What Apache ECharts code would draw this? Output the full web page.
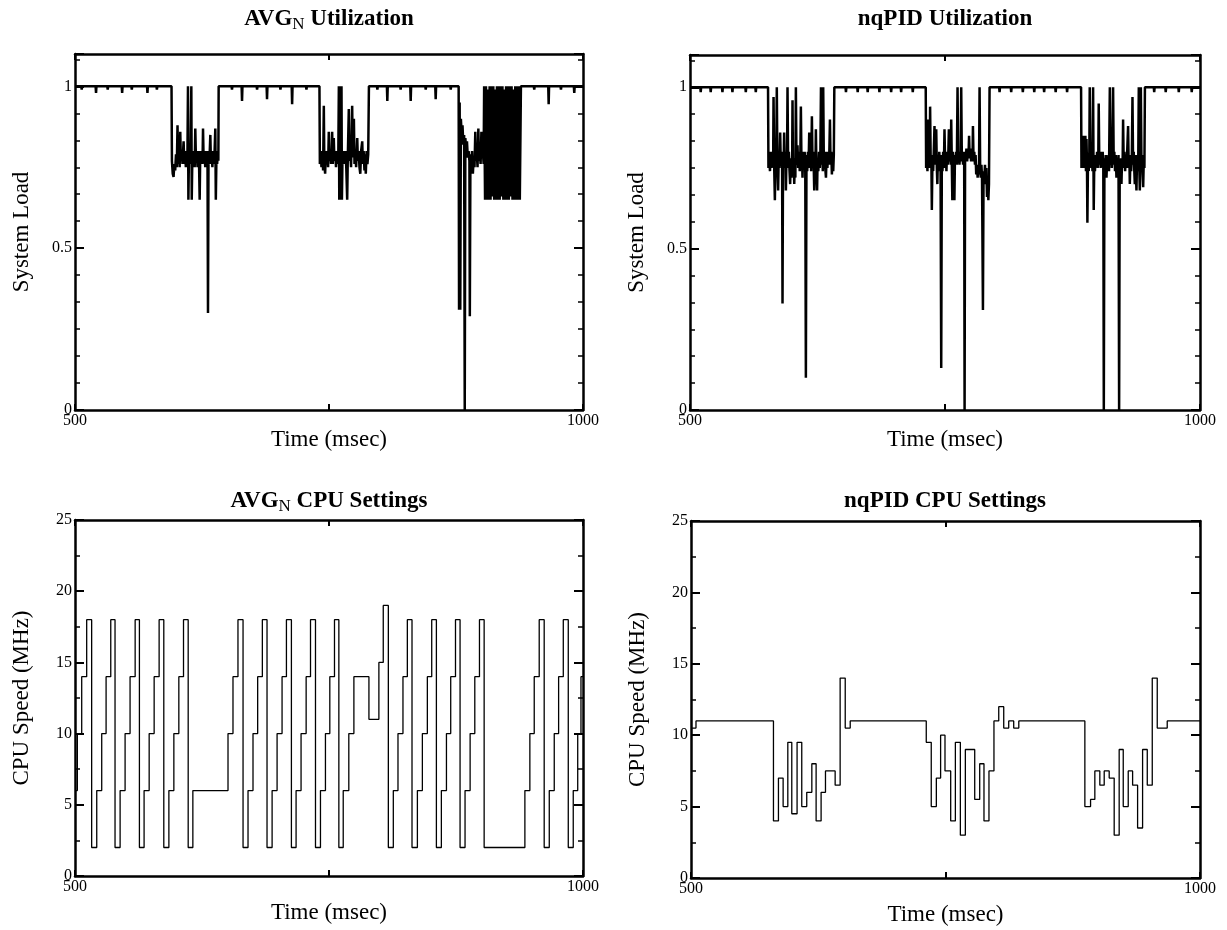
<!DOCTYPE html>
<html>
<head>
<meta charset="utf-8">
<script src="https://cdn.jsdelivr.net/npm/echarts@6/dist/echarts.min.js"></script>
<style>
html, body { margin: 0; background: #fff; }
#chart { width: 1227px; height: 930px; }
</style>
</head>
<body>
<div id="chart"></div>
<script>
// tick labels
const timeLabels = [500, 1000]
const loadLabels = [0, 0.5, 1]
const cpuLabels = [0, 5, 10, 15, 20, 25]

// AVG_N utilization, [time ms, load]
const avgLoad = [
  [500,1],[506.2,1],[506.6,0.99],[507,1],[520.3,1],[520.7,0.98],[521.1,1],[531.8,1],[532.2,0.99],[532.6,1],
  [546,1],[546.4,0.98],[546.8,1],[555.5,1],[555.9,0.99],[556.3,1],[570.9,1],[571.3,0.98],[571.7,1],[580.2,1],[580.6,0.99],[581,1],
  [595,1],[595.4,0.77],[596.2,0.73],[597,0.72],[597.8,0.76],[598.6,0.74],[599.4,0.79],[600.2,0.75],[600.9,0.88],[601.5,0.76],
  [602.3,0.8],[603,0.75],[603.6,0.86],[604.2,0.77],[605,0.8],[605.8,0.76],[606.4,0.8],[606.9,0.83],[607.5,0.76],[608.3,0.8],
  [609.1,0.75],[609.9,0.8],[610.6,0.76],[611.2,1],[611.6,0.65],[612.2,0.8],[613,0.76],[613.8,0.8],[614.5,1],[614.9,0.65],
  [615.5,0.78],[616.3,0.76],[617.1,0.8],[617.8,0.75],[618.4,0.87],[619,0.78],[619.8,0.8],[620.6,0.75],[621.4,0.8],[622.1,0.76],
  [622.7,0.65],[623.3,0.8],[624.1,0.76],[624.9,0.8],[625.5,0.76],[626,0.87],[626.6,0.77],[627.4,0.8],[628.2,0.75],[629,0.8],
  [629.8,0.76],[630.4,0.8],[630.9,0.3],[631.4,0.78],[632.2,0.76],[633.2,0.85],[633.8,0.76],[634.6,0.8],[635.2,0.75],[635.8,0.8],
  [636.6,0.76],[637.4,0.8],[638.1,0.87],[638.6,0.65],[639.2,0.78],[639.9,0.76],[640.6,0.8],[641.1,0.77],[641.4,1],
  [654.1,1],[654.5,0.99],[654.9,1],[664,1],[664.4,0.955],[664.8,1],[678.8,1],[679.2,0.99],[679.6,1],[688.6,1],[689,0.96],[689.4,1],
  [701.8,1],[702.2,0.99],[702.6,1],[713.3,1],[713.7,0.945],[714.1,1],[727.4,1],[727.8,0.99],[728.2,1],
  [740.6,1],[741,0.76],[741.8,0.79],[742.6,0.75],[743.4,0.8],[744.2,0.74],[744.9,0.94],[745.4,0.76],[746.2,0.73],[746.9,0.8],
  [747.6,0.76],[748.4,0.8],[749.1,0.75],[749.8,0.86],[750.4,0.77],[751.2,0.8],[752,0.76],[752.6,0.8],[753.1,0.86],[753.7,0.76],
  [754.7,0.84],[755.3,0.77],[756.1,0.8],[756.9,0.75],[757.7,0.8],[758.5,0.76],[759.2,0.8],[759.7,1],[760.1,0.65],[760.7,1],
  [761.2,0.65],[761.7,0.8],[762.3,1],[762.7,0.65],[763.3,0.79],[764.1,0.76],[764.6,0.8],[765.4,0.76],[766.2,0.8],[767,0.75],
  [767.9,0.65],[768.5,0.78],[769.5,0.93],[770.1,0.77],[770.9,0.8],[771.7,0.75],[772.8,0.94],[773.4,0.78],[774.5,0.9],[775.1,0.76],
  [775.9,0.8],[776.7,0.75],[777.8,0.84],[778.4,0.77],[779.2,0.8],[780,0.75],[780.8,0.73],[781.6,0.8],[782.7,0.83],[783.3,0.76],
  [784.1,0.8],[784.9,0.74],[785.6,0.79],[786.2,0.73],[787,0.8],[787.8,0.76],[788.6,0.79],[789.3,1],
  [797.2,1],[797.6,0.99],[798,1],[807,1],[807.4,0.955],[807.8,1],[820.1,1],[820.5,0.99],[820.9,1],[830,1],[830.4,0.955],[830.8,1],
  [844.8,1],[845.2,0.99],[845.6,1],[854.6,1],[855,0.96],[855.4,1],[869.4,1],[869.8,0.99],[870.2,1],
  [877.6,1],[878,0.31],[878.6,0.95],[879.2,0.31],[879.8,0.9],[880.6,0.85],[881.4,0.88],[882.2,0.82],[883,0.85],[883.6,0],
  [884.2,0.84],[885,0.8],[885.8,0.83],[886.6,0.78],[887.4,0.8],[888.2,0.77],[888.6,0.29],[889.2,0.79],[890,0.74],[890.8,0.8],
  [891.6,0.73],[892.4,0.78],[893.2,0.75],[894,0.86],[894.6,0.77],[895.4,0.8],[896.2,0.75],[897,0.87],[897.6,0.77],[898.4,0.8],
  [899.2,0.76],[900,0.86],[900.6,0.78],[901.4,0.8],[902.2,0.76],[902.7,1],[903.6,0.65],[904.5,1],[905.4,0.65],[906.3,0.99],
  [907.2,0.65],[908.1,1],[909,0.65],[909.9,1],[910.8,0.66],[911.7,1],[912.6,0.65],[913.5,0.99],[914.4,0.65],[915.3,1],
  [916.2,0.65],[917.1,1],[918,0.65],[918.9,1],[919.8,0.66],[920.7,1],[921.6,0.65],[922.5,0.99],[923.4,0.65],[924.3,1],
  [925.2,0.65],[926.1,1],[927,0.65],[927.9,1],[928.8,0.66],[929.7,1],[930.6,0.65],[931.5,0.99],[932.4,0.65],[933.3,1],
  [934.2,0.65],[935.1,1],[936,0.65],[936.9,1],[937.8,0.65],[938.4,0.65],[938.9,1],
  [951.6,1],[952,0.99],[952.4,1],[965.8,1],[966.2,0.945],[966.6,1],[977.9,1],[978.3,0.99],[978.7,1],[991,1],[991.4,0.98],[991.8,1],
  [1000,1]
]

// nqPID utilization, [time ms, load]
const nqLoad = [
  [500,1],[510.1,1],[510.5,0.985],[510.9,1],[519.9,1],[520.3,0.985],[520.7,1],[531.4,1],[531.8,0.985],[532.2,1],
  [541.2,1],[541.6,0.985],[542,1],[554.3,1],[554.7,0.985],[555.1,1],[564.1,1],[564.5,0.985],[564.9,1],
  [576.5,1],[576.9,0.75],[577.6,0.79],[578.4,0.74],[579.2,0.8],[580,0.75],[580.8,0.8],[581.5,0.76],[581.9,0.97],[582.5,0.76],
  [583.2,0.65],[583.8,0.79],[584.5,0.74],[585.1,1],[585.7,0.75],[586.4,0.68],[587,0.79],[587.7,0.75],[588.4,0.86],[589,0.76],
  [589.8,0.8],[590.3,0.75],[590.7,0.33],[591.2,0.78],[591.8,0.75],[592.3,0.86],[592.9,0.76],[593.5,0.8],[594,0.68],[594.6,0.79],
  [595.1,0.75],[595.6,1],[596.2,0.76],[596.9,0.8],[597.6,0.74],[598.2,0.7],[598.8,0.78],[599.5,0.72],[600.2,0.79],[600.5,0.96],
  [601,0.73],[601.6,0.78],[602.2,0.7],[602.8,0.77],[603.3,0.72],[603.8,1],[604.4,0.76],[605,0.79],[605.4,0.82],[606,0.75],
  [606.8,0.8],[607.6,0.74],[608.2,0.79],[608.7,0.94],[609.3,0.76],[609.8,0.79],[610.3,0.72],[611,0.8],[611.7,0.75],[612.4,0.8],
  [613,0.76],[613.6,0.1],[614.2,0.79],[614.9,0.74],[615.6,0.8],[616.2,0.75],[616.9,0.86],[617.5,0.76],[618.2,0.8],[618.8,0.74],
  [619.5,0.91],[620.1,0.77],[620.8,0.8],[621.4,0.74],[621.8,0.68],[622.5,0.79],[623,0.75],[623.4,0.87],[624,0.74],[624.6,0.68],
  [625.1,0.78],[625.8,0.74],[626.5,0.8],[627.2,0.75],[627.8,0.79],[628.4,1],[629,0.76],[629.7,0.8],[630.2,0.74],[630.6,1],
  [631.2,0.77],[631.9,0.8],[632.6,0.75],[633.3,0.72],[634,0.8],[634.7,0.75],[635.4,0.8],[636,0.76],[636.6,0.8],[637.2,0.9],
  [637.8,0.76],[638.5,0.8],[639.1,0.73],[639.8,0.79],[640.4,0.74],[641,0.79],[641.5,1],
  [652.5,1],[652.9,0.985],[653.3,1],[664,1],[664.4,0.985],[664.8,1],[673.8,1],[674.2,0.985],[674.6,1],[685.3,1],[685.7,0.985],[686.1,1],
  [696.8,1],[697.2,0.985],[697.6,1],[706.6,1],[707,0.985],[707.4,1],[718,1],[718.4,0.985],[718.8,1],
  [731.1,1],[731.5,0.75],[732.2,0.79],[732.8,0.74],[733.2,0.9],[733.8,0.76],[734.5,0.8],[735,0.75],[735.4,0.94],[736,0.76],
  [736.6,0.79],[737.1,0.62],[737.7,0.78],[738.4,0.74],[739,0.8],[739.7,0.88],[740.3,0.76],[741,0.8],[741.4,0.87],[742,0.75],
  [742.5,0.7],[743,0.78],[743.7,0.74],[744.4,0.8],[745,0.75],[745.6,0.79],[746.3,0.13],[746.9,0.78],[747.5,0.74],[748.2,0.8],
  [748.9,0.75],[749.5,0.87],[750.1,0.77],[750.8,0.8],[751.4,0.74],[752,0.8],[752.7,0.76],[753.3,0.8],[753.8,0.87],[754.4,0.77],
  [755,0.8],[755.6,0.76],[756.1,0.9],[756.7,0.76],[757.2,0.65],[757.8,0.8],[758.5,0.75],[759.2,0.65],[759.8,0.79],[760.4,0.76],
  [761,0.8],[761.6,0.76],[762.3,1],[762.9,0.78],[763.6,0.8],[764.2,0.76],[764.8,0.8],[765.3,0.77],[765.9,1],[766.5,0.78],
  [767.1,0.8],[767.7,0.76],[768.3,0.8],[768.8,0.77],[769.2,0],[769.7,0.8],[770.4,0.78],[771,0.81],[771.7,0.77],[772.4,0.8],
  [773,0.78],[773.6,0.85],[774.2,0.78],[774.9,0.81],[775.6,0.77],[776.3,0.8],[777,0.78],[777.4,0.88],[778,0.77],[778.7,0.8],
  [779.4,0.76],[780,0.79],[780.6,0.73],[781.3,0.76],[782,0.72],[782.7,0.76],[783.3,0.73],[783.9,1],[784.5,0.74],[785.1,0.72],
  [785.7,0.76],[786.3,0.72],[787.2,0.31],[787.8,0.74],[788.5,0.71],[789.2,0.76],[789.9,0.7],[790.5,0.75],[791.2,0.66],[791.9,0.72],
  [792.5,0.65],[793.1,0.7],[793.7,1],
  [803.1,1],[803.5,0.985],[803.9,1],[814.5,1],[814.9,0.985],[815.3,1],[825.9,1],[826.3,0.985],[826.7,1],[837.1,1],[837.5,0.985],[837.9,1],
  [846.8,1],[847.2,0.985],[847.6,1],[858.1,1],[858.5,0.985],[858.9,1],[869.3,1],[869.7,0.985],[870.1,1],
  [883.4,1],[883.8,0.75],[884.4,0.8],[885,0.76],[885.4,0.85],[886,0.75],[886.6,0.82],[887,0.76],[887.6,0.85],[888.2,0.74],
  [888.7,0.84],[889.2,0.76],[889.6,0.58],[890.2,0.78],[890.9,0.74],[891.5,0.8],[891.9,1],[892.5,0.76],[893.1,0.8],[893.5,0.75],
  [894.1,0.79],[894.6,0.74],[895.2,1],[895.8,0.62],[896.4,0.78],[897,0.74],[897.8,0.79],[898.4,0.76],[899.1,0.8],[899.7,0.75],
  [900.3,0.79],[900.7,0.95],[901.3,0.76],[902,0.8],[902.6,0.75],[903.3,0.8],[904,0.76],[904.6,0.8],[905.2,0.75],[905.7,0],
  [906.3,0.78],[907,0.74],[907.6,0.79],[908.3,0.72],[909,0.78],[909.6,0.75],[910.2,0.79],[910.8,0.74],[911.6,1],[912.2,0.76],
  [912.8,0.8],[913.5,0.75],[914.1,0.79],[914.8,1],[915.4,0.76],[916,0.8],[916.7,0.74],[917.4,0.79],[918.1,0.72],[918.8,0.78],
  [919.5,0.75],[920.1,0.79],[920.7,0],[921.3,0.77],[922,0.73],[922.6,0.78],[923,0.7],[923.6,0.78],[924.1,0.75],[924.6,0.9],
  [925.2,0.76],[925.9,0.8],[926.6,0.74],[927.3,0.79],[927.9,0.75],[928.6,0.8],[929.5,0.88],[930.1,0.75],[930.7,0.79],[931.2,0.7],
  [931.8,0.78],[932.5,0.74],[933.2,0.79],[933.8,0.97],[934.4,0.76],[935,0.8],[935.6,0.74],[936.1,0.7],[936.7,0.79],[937.3,0.72],
  [937.7,0.68],[938.3,0.79],[938.9,0.74],[939.5,0.79],[940,1],[940.5,0.75],[941,0.68],[941.5,0.79],[942,1],[942.6,0.76],
  [943.2,0.79],[943.8,0.73],[944.3,0.69],[944.9,0.78],[945.5,0.75],[946,1],
  [954.7,1],[955.1,0.985],[955.5,1],[966,1],[966.4,0.985],[966.8,1],[978.8,1],[979.2,0.985],[979.6,1],[991.5,1],[991.9,0.985],[992.3,1],
  [1000,1]
]

// CPU settings: time the setting starts, MHz
const avgCpuTime = [500, 502.3, 506.6, 511.5, 516.4, 521.4, 526.3, 530.6, 535.2, 539.4, 544.4, 549.3, 554.2, 559.2, 563.4,
  568, 573, 577.9, 582.8, 587.4, 592.4, 597.3, 602.2, 606.8, 611.4, 616, 650.6, 655.5, 660.4, 665.4, 670.3, 675.2, 679.8,
  684.4, 689, 694, 698.9, 703.8, 708.1, 713, 717.6, 722.5, 727.5, 731.8, 736.7, 741.6, 746.5, 750.8, 755.4, 759.7, 764,
  769.5, 774.5, 789.3, 799.1, 803.4, 808.4, 813.3, 817.9, 822.8, 827.1, 831.7, 837, 841.9, 846.8, 851.1, 855.7, 860.6,
  865.6, 869.8, 874.5, 879, 883.9, 888.9, 893.5, 898.1, 902.7, 942.8, 947.7, 952, 956.9, 961.8, 966.8, 971.7, 976, 980.6,
  985.5, 990.4, 994.8, 998, 1000]
const avgCpuMhz = [6, 10, 14, 18, 2, 6, 10, 14, 18, 2, 6, 10, 14, 18, 2,
  6, 10, 14, 18, 2, 6, 10, 14, 18, 2, 6, 10, 14, 18, 2, 6, 10, 14,
  18, 2, 6, 10, 14, 18, 2, 6, 10, 14, 18, 2, 6, 10, 14, 18, 2, 6,
  10, 14, 11, 15, 19, 2, 6, 10, 14, 18, 2, 6, 10, 14, 18, 2, 6,
  10, 14, 18, 2, 6, 10, 14, 18, 2, 6, 10, 14, 18, 2, 6, 10, 14, 18,
  2, 6, 10, 14, 14]

const nqCpuTime = [500, 504.9, 581, 585.9, 590.5, 595.1, 599, 604.2, 608.8, 613.7, 618.7, 622.9, 627.8, 632.1, 641.6,
  646.5, 651.5, 656.4, 731.1, 736, 741, 745.2, 749.5, 755.1, 759.7, 764.6, 769.5, 778.7, 783.6, 787.8, 792.7, 797.6,
  802.3, 807.2, 812.1, 817, 822, 886.9, 892.5, 896.7, 901.6, 905.9, 910.8, 915.7, 920.6, 924.6, 929.5, 933.8, 938.7,
  943.6, 948.2, 953.1, 958, 967.8, 1000]
const nqCpuMhz = [10.5, 11, 4, 7, 5, 9.5, 4.5, 9.5, 5, 6, 8, 4, 6, 7.5, 6.5,
  14, 10.5, 11, 9.5, 5, 7, 10, 7.5, 4, 9.5, 3, 9, 5.5, 8, 4, 7.5, 11,
  12, 10.5, 11, 10.5, 11, 5, 5.5, 7.5, 6.5, 7.5, 7, 3, 9, 5, 7.5, 6.5, 3.5,
  9, 6.5, 14, 10.5, 11, 11]

const FONT = '"Liberation Serif", "Times New Roman", serif'

const chart = echarts.init(document.getElementById('chart'))

const grids = [
  { left: 75, top: 54, width: 508, height: 356 },
  { left: 690, top: 55, width: 510, height: 355 },
  { left: 75, top: 520, width: 508, height: 356 },
  { left: 691, top: 521, width: 509, height: 357 }
]

const xAxis = []
const yAxis = []
const series = []
const black = '#000'

function addX(g, nameGap) {
  const base = {
    type: 'value', gridIndex: g, min: 500, max: 1000, interval: 250,
    splitLine: { show: false },
    axisLine: { show: true, onZero: false, lineStyle: { color: black, width: 2.5 } },
    axisTick: { show: true, inside: true, length: 6, lineStyle: { color: black, width: 2 } }
  }
  xAxis.push(Object.assign({}, base, {
    position: 'bottom',
    name: 'Time (msec)', nameLocation: 'middle', nameGap: nameGap, nameMoveOverlap: false,
    nameTextStyle: { fontFamily: FONT, fontSize: 23, color: black },
    axisLabel: {
      show: true, margin: 3, fontFamily: FONT, fontSize: 16, color: black,
      formatter: v => timeLabels.includes(v) ? String(v) : ''
    }
  }))
  xAxis.push(Object.assign({}, base, { position: 'top', axisLabel: { show: false } }))
  return xAxis.length - 2
}

function addY(g, max, interval, minor, name, labels) {
  const first = yAxis.length
  const base = {
    type: 'value', gridIndex: g, min: 0, max: max, interval: interval,
    splitLine: { show: false },
    axisLine: { show: true, onZero: false, lineStyle: { color: black, width: 2.5 } },
    axisTick: { show: true, inside: true, length: 9, lineStyle: { color: black, width: 2 } }
  }
  yAxis.push(Object.assign({}, base, {
    position: 'left',
    name: name, nameLocation: 'middle', nameGap: 42, nameRotate: 90, nameMoveOverlap: false,
    nameTextStyle: { fontFamily: FONT, fontSize: 23, color: black },
    axisLabel: {
      show: true, margin: 3, fontFamily: FONT, fontSize: 16, color: black,
      formatter: v => labels.includes(v) ? String(v) : ''
    }
  }))
  yAxis.push(Object.assign({}, base, { position: 'right', axisLabel: { show: false } }))
  // short ticks between the labelled ones
  const minorAxis = {
    type: 'value', gridIndex: g, min: 0, max: max, interval: minor,
    splitLine: { show: false }, axisLabel: { show: false },
    axisLine: { show: false },
    axisTick: { show: true, inside: true, length: 5, lineStyle: { color: black, width: 1.5 } }
  }
  yAxis.push(Object.assign({}, minorAxis, { position: 'left' }))
  yAxis.push(Object.assign({}, minorAxis, { position: 'right' }))
  return first
}

function loadSeries(data, xi, yi) {
  series.push({
    type: 'line', xAxisIndex: xi, yAxisIndex: yi, data: data,
    symbol: 'none', animation: false,
    lineStyle: { color: black, width: 2.5 }
  })
}

function cpuSeries(times, mhz, xi, yi) {
  series.push({
    type: 'line', xAxisIndex: xi, yAxisIndex: yi, step: 'end',
    data: times.map((t, i) => [t, mhz[i]]),
    symbol: 'none', animation: false,
    lineStyle: { color: black, width: 1.3 }
  })
}

loadSeries(avgLoad, addX(0, 18), addY(0, 1.1, 0.5, 1 / 12, 'System Load', loadLabels))
loadSeries(nqLoad, addX(1, 18), addY(1, 1.1, 0.5, 1 / 12, 'System Load', loadLabels))
cpuSeries(avgCpuTime, avgCpuMhz, addX(2, 25), addY(2, 25, 5, 2.5, 'CPU Speed (MHz)', cpuLabels))
cpuSeries(nqCpuTime, nqCpuMhz, addX(3, 25), addY(3, 25, 5, 2.5, 'CPU Speed (MHz)', cpuLabels))

// panel titles with subscript N
const rich = {
  b: { fontFamily: FONT, fontSize: 23, fontWeight: 'bold', fill: black },
  s: { fontFamily: FONT, fontSize: 17, fill: black, padding: [12, 0, 0, 0] }
}
function title(x, y, text) {
  return { type: 'text', x: x, y: y, style: { text: text, rich: rich, align: 'center', verticalAlign: 'middle', fontFamily: FONT, fontSize: 23, fontWeight: 'bold', fill: black } }
}

chart.setOption({
  backgroundColor: '#fff',
  animation: false,
  grid: grids,
  xAxis: xAxis,
  yAxis: yAxis,
  series: series,
  graphic: [
    title(329, 19, '{b|AVG}{s|N}{b| Utilization}'),
    title(945, 19, '{b|nqPID Utilization}'),
    title(329, 501, '{b|AVG}{s|N}{b| CPU Settings}'),
    title(945, 501, '{b|nqPID CPU Settings}')
  ]
})
</script>
</body>
</html>
